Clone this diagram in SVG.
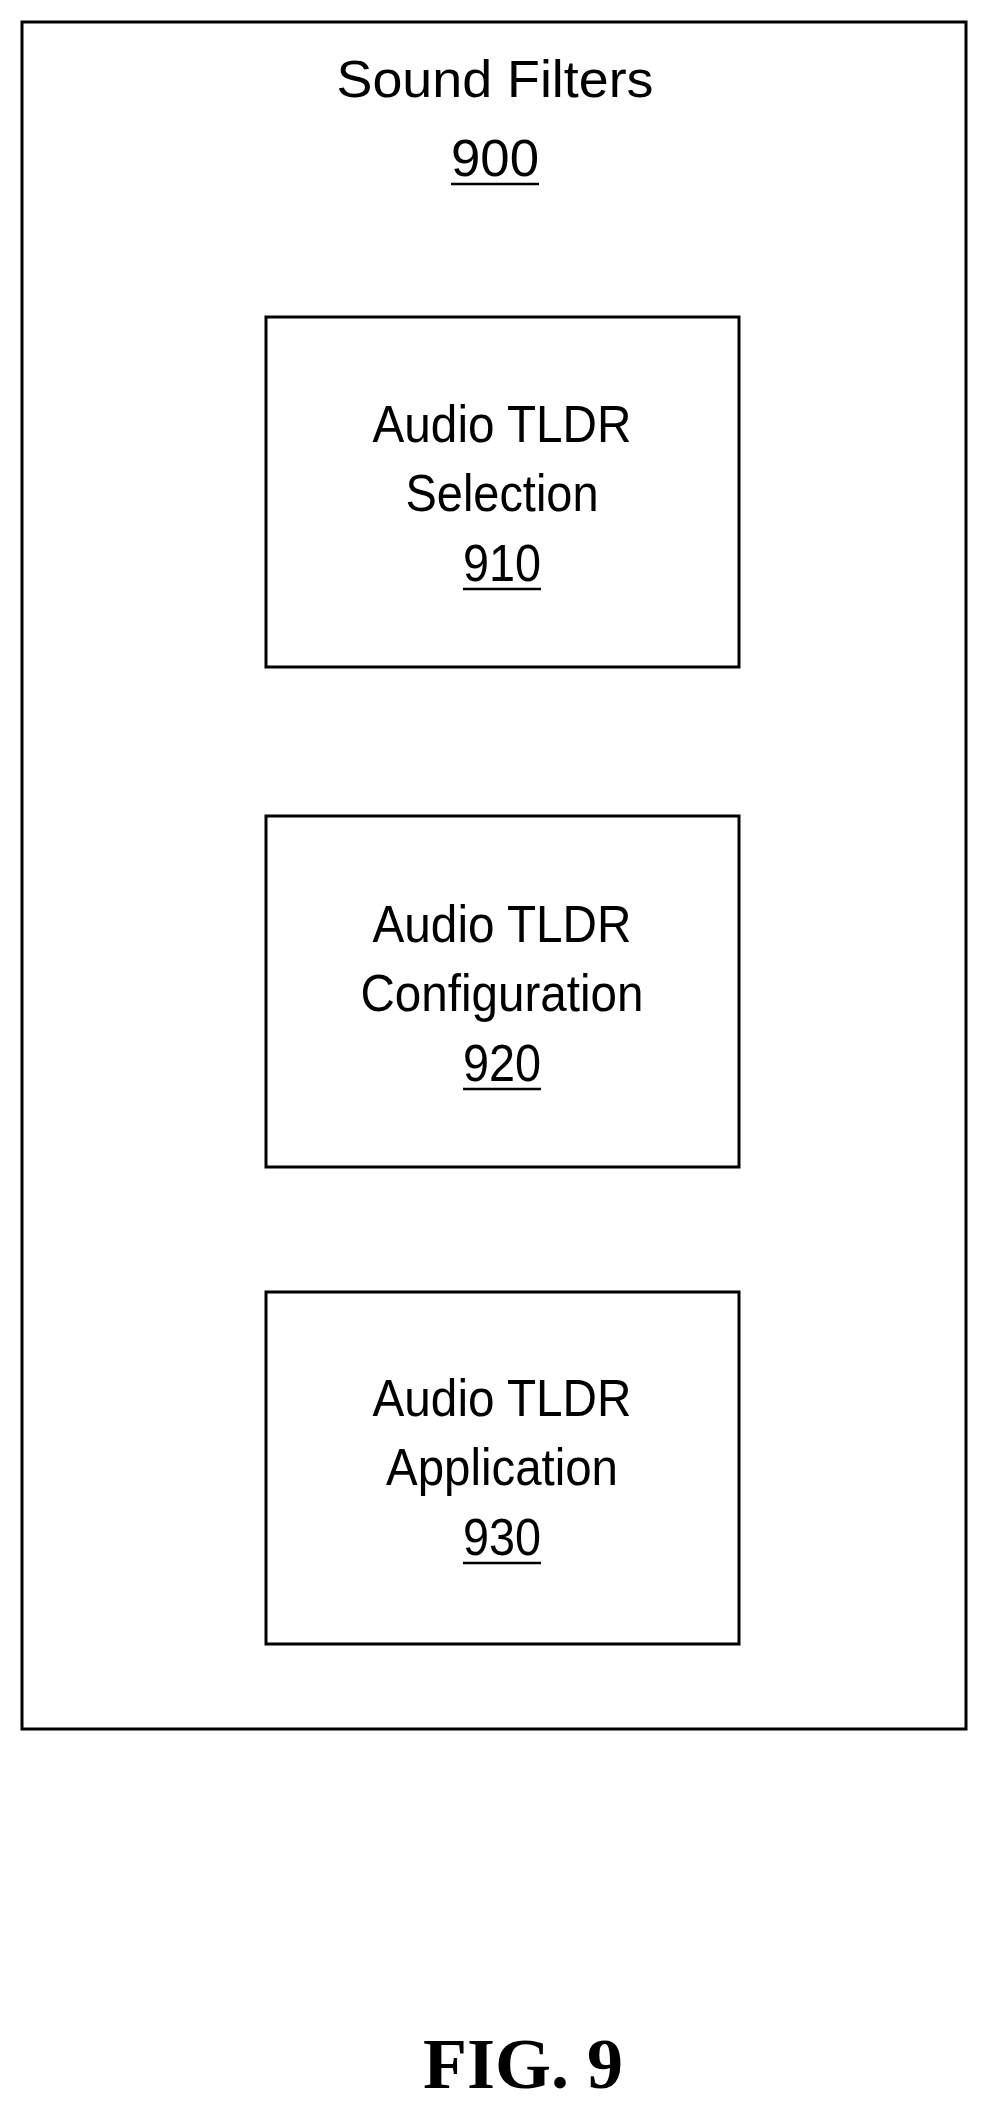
<svg xmlns="http://www.w3.org/2000/svg" width="990" height="2114" viewBox="0 0 990 2114">
<style>
.b{fill:none;stroke:#000;stroke-width:3}
.t{font-family:"Liberation Sans",Arial,sans-serif;font-size:52px;text-anchor:middle;fill:#000}
.u{stroke:#000;stroke-width:2.5}
.f{font-family:"Liberation Serif","Times New Roman",serif;font-size:72px;font-weight:bold;text-anchor:middle}
</style>
<rect width="990" height="2114" fill="#fff"/>
<g id="n900">
<rect class="b" x="22" y="22" width="944" height="1707"/>
<text class="t" x="495" y="97" textLength="317" lengthAdjust="spacingAndGlyphs">Sound Filters</text>
<text class="t" x="495" y="176" textLength="88" lengthAdjust="spacingAndGlyphs">900</text>
<line class="u" x1="451" y1="184" x2="539" y2="184"/>
</g>
<g id="n910">
<rect class="b" x="266" y="317" width="473" height="350"/>
<text class="t" x="502" y="442" textLength="259" lengthAdjust="spacingAndGlyphs">Audio TLDR</text>
<text class="t" x="502" y="511" textLength="193" lengthAdjust="spacingAndGlyphs">Selection</text>
<text class="t" x="502" y="581" textLength="78" lengthAdjust="spacingAndGlyphs">910</text>
<line class="u" x1="463" y1="589" x2="541" y2="589"/>
</g>
<g id="n920">
<rect class="b" x="266" y="816" width="473" height="351"/>
<text class="t" x="502" y="942" textLength="259" lengthAdjust="spacingAndGlyphs">Audio TLDR</text>
<text class="t" x="502" y="1011" textLength="283" lengthAdjust="spacingAndGlyphs">Configuration</text>
<text class="t" x="502" y="1081" textLength="78" lengthAdjust="spacingAndGlyphs">920</text>
<line class="u" x1="463" y1="1089" x2="541" y2="1089"/>
</g>
<g id="n930">
<rect class="b" x="266" y="1292" width="473" height="352"/>
<text class="t" x="502" y="1416" textLength="259" lengthAdjust="spacingAndGlyphs">Audio TLDR</text>
<text class="t" x="502" y="1485" textLength="232" lengthAdjust="spacingAndGlyphs">Application</text>
<text class="t" x="502" y="1555" textLength="78" lengthAdjust="spacingAndGlyphs">930</text>
<line class="u" x1="463" y1="1563" x2="541" y2="1563"/>
</g>
<g id="connectors"></g>
<text class="f" x="523" y="2088">FIG. 9</text>
</svg>
